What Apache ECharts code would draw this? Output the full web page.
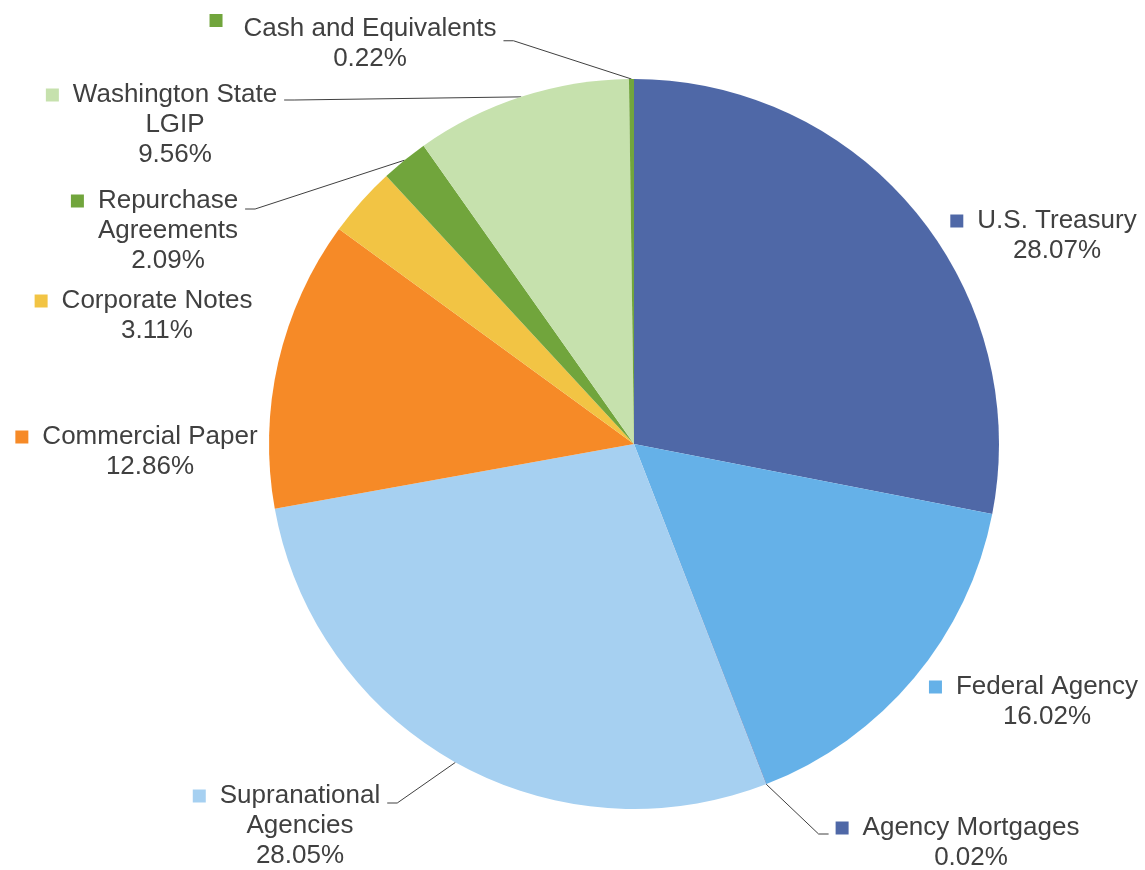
<!DOCTYPE html>
<html>
<head>
<meta charset="utf-8">
<script src="https://cdn.jsdelivr.net/npm/echarts@6/dist/echarts.min.js"></script>
<style>
  html, body { margin: 0; padding: 0; background: #ffffff; }
  #chart { width: 1145px; height: 870px; }
</style>
</head>
<body>
<div id="chart"></div>
<script>
// Portfolio composition, clockwise from 12 o'clock
const categories = [
  'U.S. Treasury', 'Federal Agency', 'Agency Mortgages', 'Supranational Agencies',
  'Commercial Paper', 'Corporate Notes', 'Repurchase Agreements',
  'Washington State LGIP', 'Cash and Equivalents'
];
const shares = [28.07, 16.02, 0.02, 28.05, 12.86, 3.11, 2.09, 9.56, 0.22];

// How each category name wraps in its label
const nameLines = [
  ['U.S. Treasury'], ['Federal Agency'], ['Agency Mortgages'], ['Supranational', 'Agencies'],
  ['Commercial Paper'], ['Corporate Notes'], ['Repurchase', 'Agreements'],
  ['Washington State', 'LGIP'], ['Cash and Equivalents']
];

// Slice colours
const palette = [
  '#4f68a7', '#65b1e8', '#4f68a7', '#a6d0f1',
  '#f68a27', '#f2c444', '#71a53c', '#c6e1ad', '#71a53c'
];

// Label text-block centres, leader flags and label-box tweaks
const labelAnchors = [
  [1057, 236], [1047, 702], [971, 843], [300, 826],
  [150, 452], [157, 316], [168, 231], [175, 125], [370, 44]
];
const hasLeader = [false, false, true, true, false, false, true, true, true];
// empty space added above a label so its leader meets the first line
const leaderLift = [0, 0, 18, 46, 0, 0, 44, 50, 0];
// space between the colour square and the name
const markerGap = [14, 14, 14, 14, 14, 14, 14, 14, 21];
const MARK = 13;
const LINE_H = 30;

const TEXT = '#404040';
const FONT = "'Liberation Sans', Arial, sans-serif";

const seriesData = categories.map((name, i) => {
  const lines = nameLines[i];
  const indent = MARK + markerGap[i];
  // colour square leads the first line; later lines get a matching indent
  let fmt = '';
  if (leaderLift[i] > 0) fmt += '{s| }\n';
  fmt += '{m| }{g| }{t|' + lines[0] + '}';
  for (let k = 1; k < lines.length; k++) fmt += '\n{q| }{t|' + lines[k] + '}';
  fmt += '\n{q| }{t|' + shares[i].toFixed(2) + '%}';
  return {
    name: name,
    value: shares[i],
    itemStyle: { color: palette[i] },
    label: {
      formatter: fmt,
      rich: {
        s: { width: 0, height: leaderLift[i], lineHeight: leaderLift[i], fontSize: 1 },
        m: {
          width: MARK, height: MARK, backgroundColor: palette[i], lineHeight: LINE_H,
          verticalAlign: i === 8 ? 'top' : 'middle'
        },
        g: { width: markerGap[i], lineHeight: LINE_H },
        q: { width: indent, lineHeight: LINE_H },
        t: { fontSize: 26, lineHeight: LINE_H, color: TEXT, fontFamily: FONT }
      }
    },
    labelLine: { show: hasLeader[i] }
  };
});

const chart = echarts.init(document.getElementById('chart'), null, { renderer: 'canvas' });
chart.setOption({
  backgroundColor: '#ffffff',
  animation: false,
  series: [{
    type: 'pie',
    center: [634, 444],
    radius: [0, 365],
    startAngle: 90,
    clockwise: true,
    avoidLabelOverlap: false,
    itemStyle: { borderWidth: 0 },
    label: {
      show: true,
      position: 'outside',
      align: 'center',
      color: TEXT,
      fontFamily: FONT,
      fontSize: 26,
      lineHeight: LINE_H,
      padding: [0, 7]
    },
    labelLine: {
      length: 20,
      length2: 10,
      lineStyle: { color: '#404040', width: 1 }
    },
    labelLayout: function (params) {
      const i = params.dataIndex;
      const a = labelAnchors[i];
      const indent = MARK + markerGap[i];
      return {
        x: a[0] - indent / 2,
        y: a[1] - leaderLift[i] / 2,
        align: 'center',
        verticalAlign: 'middle'
      };
    },
    emphasis: { disabled: true },
    data: seriesData
  }]
});
</script>
</body>
</html>
